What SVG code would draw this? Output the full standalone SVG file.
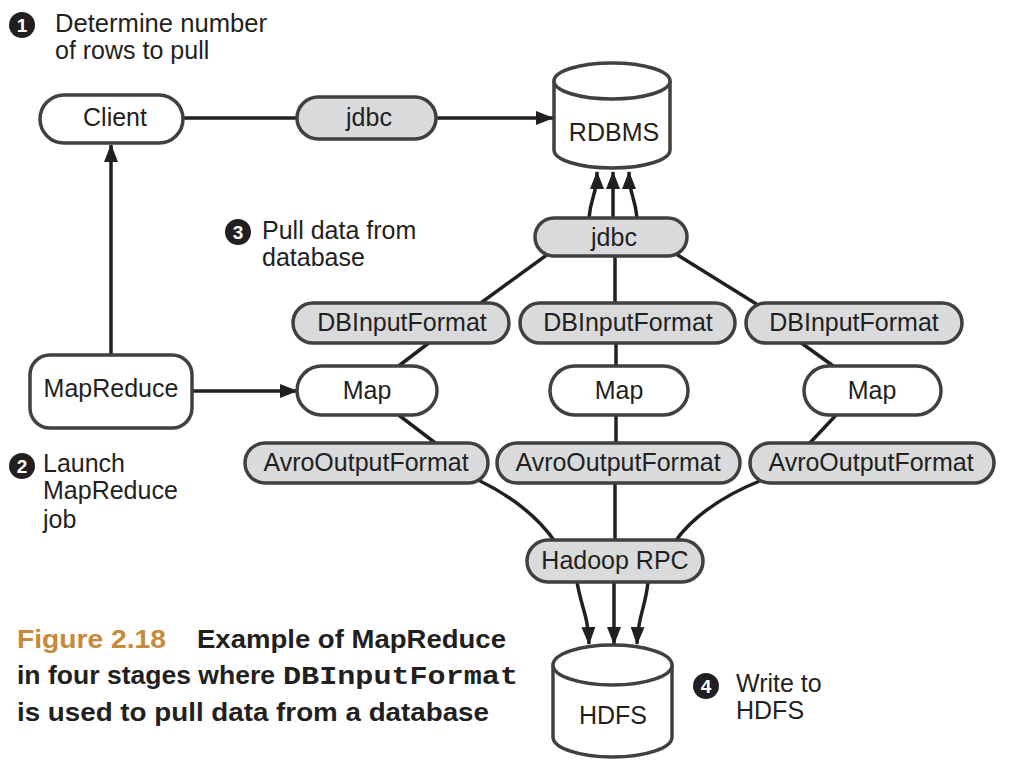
<svg xmlns="http://www.w3.org/2000/svg" width="1010" height="774" viewBox="0 0 1010 774">
<defs>
<marker id="arr" markerUnits="userSpaceOnUse" markerWidth="18" markerHeight="14" refX="17" refY="7" orient="auto">
<path d="M0,0 L18,7 L0,14 z" fill="#231f20"/>
</marker>
<style>
.node{fill:#fff;stroke:#404040;stroke-width:3.5}
.gray{fill:#d9dadc;stroke:#404040;stroke-width:3.5}
.lbl{font-family:"Liberation Sans",Arial,sans-serif;font-size:25px;fill:#231f20;text-anchor:middle}
.ann{font-family:"Liberation Sans",Arial,sans-serif;font-size:25px;fill:#231f20}
.num{font-family:"Liberation Sans",Arial,sans-serif;font-size:19px;font-weight:bold;fill:#fff;text-anchor:middle}
.conn{fill:none;stroke:#231f20;stroke-width:3.5}
.cap{font-family:"Liberation Sans",Arial,sans-serif;font-size:25px;font-weight:bold;fill:#231f20}
</style>
</defs>
<rect width="1010" height="774" fill="#fff"/>
<g id="connectors">
<path class="conn" d="M183,118 L553,118" marker-end="url(#arr)"/>
<path class="conn" d="M111,355 L111,145" marker-end="url(#arr)"/>
<path class="conn" d="M192,391 L297,391" marker-end="url(#arr)"/>
<path class="conn" d="M589,218 C591,195 597,195 597,172" marker-end="url(#arr)"/>
<path class="conn" d="M613,218 L613,172" marker-end="url(#arr)"/>
<path class="conn" d="M637,218 C635,195 629,195 629,172" marker-end="url(#arr)"/>
<path class="conn" d="M548,254 L478,305"/>
<path class="conn" d="M615,256 L615,305"/>
<path class="conn" d="M676,254 L758,305"/>
<path class="conn" d="M430,342 L396,368"/>
<path class="conn" d="M616,342 L616,368"/>
<path class="conn" d="M800,342 L836,368"/>
<path class="conn" d="M396,413 L438,445"/>
<path class="conn" d="M616,413 L616,445"/>
<path class="conn" d="M838,413 L808,445"/>
<path class="conn" d="M478,480 Q530,505 556,543"/>
<path class="conn" d="M615,482 L615,542"/>
<path class="conn" d="M762,480 Q700,505 674,543"/>
<path class="conn" d="M577,582 C582,610 588,615 589,644" marker-end="url(#arr)"/>
<path class="conn" d="M614,582 L614,644" marker-end="url(#arr)"/>
<path class="conn" d="M648,582 C645,610 638,615 637,644" marker-end="url(#arr)"/>
</g>
<g id="client"><rect class="node" x="40" y="95" width="143" height="48" rx="24"/><text class="lbl" x="115" y="126">Client</text></g>
<g id="jdbc-top"><rect class="gray" x="297" y="97" width="139" height="42" rx="21"/><text class="lbl" x="369" y="126">jdbc</text></g>
<g id="rdbms">
<path class="node" d="M554,81 A58,18 0 0 1 670,81 L670,150 A58,18 0 0 1 554,150 Z"/>
<path class="node" d="M554,81 A58,18 0 0 0 670,81" fill="none"/>
<text class="lbl" x="614" y="141">RDBMS</text>
</g>
<g id="jdbc-mid"><rect class="gray" x="535" y="218" width="152" height="38" rx="19"/><text class="lbl" x="614" y="246">jdbc</text></g>
<g id="dbin1"><rect class="gray" x="293" y="303" width="216" height="40" rx="20"/><text class="lbl" x="402" y="331">DBInputFormat</text></g>
<g id="dbin2"><rect class="gray" x="520" y="303" width="215" height="40" rx="20"/><text class="lbl" x="628" y="331">DBInputFormat</text></g>
<g id="dbin3"><rect class="gray" x="746" y="303" width="216" height="40" rx="20"/><text class="lbl" x="854" y="331">DBInputFormat</text></g>
<g id="map1"><rect class="node" x="297" y="366" width="140" height="49" rx="24.5"/><text class="lbl" x="367" y="399">Map</text></g>
<g id="map2"><rect class="node" x="550" y="366" width="138" height="49" rx="24.5"/><text class="lbl" x="619" y="399">Map</text></g>
<g id="map3"><rect class="node" x="804" y="366" width="137" height="49" rx="24.5"/><text class="lbl" x="872" y="399">Map</text></g>
<g id="avro1"><rect class="gray" x="245" y="443" width="243" height="40" rx="20"/><text class="lbl" x="366" y="471">AvroOutputFormat</text></g>
<g id="avro2"><rect class="gray" x="497" y="443" width="243" height="40" rx="20"/><text class="lbl" x="618" y="471">AvroOutputFormat</text></g>
<g id="avro3"><rect class="gray" x="750" y="443" width="244" height="40" rx="20"/><text class="lbl" x="871" y="471">AvroOutputFormat</text></g>
<g id="hadooprpc"><rect class="gray" x="527" y="540" width="176" height="42" rx="21"/><text class="lbl" x="615" y="569">Hadoop RPC</text></g>
<g id="hdfs">
<path class="node" d="M553,665 A59.5,20 0 0 1 672,665 L672,737 A59.5,20 0 0 1 553,737 Z"/>
<path class="node" d="M553,665 A59.5,20 0 0 0 672,665" fill="none"/>
<text class="lbl" x="613" y="724">HDFS</text>
</g>
<g id="mapreduce"><rect class="node" x="30" y="355" width="162" height="73" rx="20"/><text class="lbl" x="111" y="397">MapReduce</text></g>
<g id="ann1"><circle cx="22" cy="25" r="13" fill="#231f20"/><text class="num" x="22" y="32">1</text>
<text class="ann" x="55" y="32" textLength="212" lengthAdjust="spacingAndGlyphs">Determine number</text><text class="ann" x="55" y="59">of rows to pull</text></g>
<g id="ann2"><circle cx="22" cy="466" r="13" fill="#231f20"/><text class="num" x="22" y="473">2</text>
<text class="ann" x="43" y="472">Launch</text><text class="ann" x="43" y="499">MapReduce</text><text class="ann" x="43" y="528">job</text></g>
<g id="ann3"><circle cx="238" cy="232" r="13" fill="#231f20"/><text class="num" x="238" y="239">3</text>
<text class="ann" x="262" y="239">Pull data from</text><text class="ann" x="262" y="266">database</text></g>
<g id="ann4"><circle cx="706" cy="686" r="13" fill="#231f20"/><text class="num" x="706" y="693">4</text>
<text class="ann" x="736" y="692">Write to</text><text class="ann" x="736" y="719">HDFS</text></g>
<g id="caption">
<text class="cap" x="17" y="648" fill="#c68a3a" style="fill:#c68a3a" textLength="149" lengthAdjust="spacingAndGlyphs">Figure 2.18</text>
<text class="cap" x="197" y="648" textLength="309" lengthAdjust="spacingAndGlyphs">Example of MapReduce</text>
<text class="cap" x="17" y="684" textLength="258" lengthAdjust="spacingAndGlyphs">in four stages where</text>
<text class="cap" x="283" y="684" style="font-family:'Liberation Mono','Courier New',monospace" textLength="235" lengthAdjust="spacingAndGlyphs">DBInputFormat</text>
<text class="cap" x="17" y="721" textLength="472" lengthAdjust="spacingAndGlyphs">is used to pull data from a database</text>
</g>
</svg>
